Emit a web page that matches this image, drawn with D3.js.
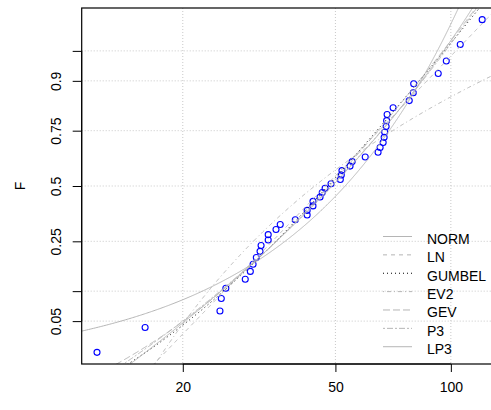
<!DOCTYPE html>
<html><head><meta charset="utf-8">
<script src="https://cdn.jsdelivr.net/npm/d3@7"></script>
<style>
body{margin:0;background:#fff}
svg{display:block}
text{font-family:"Liberation Sans",Arial,Helvetica,sans-serif;fill:#000}
</style>
</head><body>
<svg id="chart" width="491" height="410"></svg>
<script>
// ---- data ----
const sampleValues = [11.95, 15.95, 25.0, 25.2, 25.9, 29.1, 30.0, 30.5, 31.1, 31.8, 32.0, 33.4, 33.4, 35.0, 35.9, 39.3,
  42.2, 42.2, 43.7, 43.7, 45.6, 46.2, 47.0, 48.7, 51.5, 51.8, 52.0, 54.6, 55.3, 59.8, 64.6, 65.4, 66.6, 67.0, 67.2,
  67.8, 68.0, 68.2, 70.7, 77.9, 79.8, 80.0, 92.7, 97.3, 105.8, 120.7];
const xTicks = [20, 50, 100];
const xTickLabels = ["20", "50", "100"];
const yTickProbs = [0.05, 0.1, 0.25, 0.5, 0.75, 0.9, 0.95];
const yTickLabels = ["0.05", "", "0.25", "0.5", "0.75", "0.9", ""];
const yTitle = "F";
const distNames = ["NORM", "LN", "GUMBEL", "EV2", "GEV", "P3", "LP3"];
const distColors = ["#b5b5b5", "#b5b5b5", "#000000", "#b5b5b5", "#b5b5b5", "#b5b5b5", "#b5b5b5"];
const distDashes = ["", "4,4", "1,3", "1,3,4,3", "7,3", "2,2,6,2", ""];
// fitted parameters per distribution
const normParams = {mean: 53.0, sd: 23.8};
const lnParams = {meanlog: 3.853, sdlog: 0.475};
const gumbelParams = {xi: 41.0, alpha: 18.54};
const ev2Params = {theta: 36.34, k: 1.88};
const gevParams = {xi: 41.3, alpha: 19.0, k: 0.03};
const p3Params = {mean: 52.4, sd: 23.9, skew: 0.9};
const lp3Params = {meanlog: 3.853, sdlog: 0.475, skew: -0.5};

// ---- math helpers ----
function qnorm(p) {
  const a=[-3.969683028665376e+01,2.209460984245205e+02,-2.759285104469687e+02,1.383577518672690e+02,-3.066479806614716e+01,2.506628277459239e+00];
  const b=[-5.447609879822406e+01,1.615858368580409e+02,-1.556989798598866e+02,6.680096038544242e+01,-1.328068155288572e+01];
  const c=[-7.784894002430293e-03,-3.223964580411365e-01,-2.400758277161838e+00,-2.549732539343734e+00,4.374664141464968e+00,2.938163982698783e+00];
  const d=[7.784695709041462e-03,3.224671290700398e-01,2.445134137142996e+00,3.754408661907416e+00];
  const pl=0.02425, ph=1-pl; let q,r;
  if(p<pl){q=Math.sqrt(-2*Math.log(p));return (((((c[0]*q+c[1])*q+c[2])*q+c[3])*q+c[4])*q+c[5])/((((d[0]*q+d[1])*q+d[2])*q+d[3])*q+1);}
  if(p<=ph){q=p-0.5;r=q*q;return (((((a[0]*r+a[1])*r+a[2])*r+a[3])*r+a[4])*r+a[5])*q/(((((b[0]*r+b[1])*r+b[2])*r+b[3])*r+b[4])*r+1);}
  q=Math.sqrt(-2*Math.log(1-p));return -(((((c[0]*q+c[1])*q+c[2])*q+c[3])*q+c[4])*q+c[5])/((((d[0]*q+d[1])*q+d[2])*q+d[3])*q+1);
}
function erfc(x){const z=Math.abs(x),t=1/(1+0.5*z);
  const r=t*Math.exp(-z*z-1.26551223+t*(1.00002368+t*(0.37409196+t*(0.09678418+t*(-0.18628806+t*(0.27886807+t*(-1.13520398+t*(1.48851587+t*(-0.82215223+t*0.17087277)))))))));
  return x>=0?r:2-r;}
function pnorm(z){return 0.5*erfc(-z/Math.SQRT2);}
function whK(z,g){ if(Math.abs(g)<1e-6) return z; const b=1+g*z/6-g*g/36; return (2/g)*(b*b*b-1); }

// quantile functions, argument: standard normal variate z (F = pnorm(z))
const quantiles = [
  z => normParams.mean + normParams.sd*z,
  z => Math.exp(lnParams.meanlog + lnParams.sdlog*z),
  z => { const F=pnorm(z); return gumbelParams.xi - gumbelParams.alpha*Math.log(-Math.log(F)); },
  z => { const F=pnorm(z); return ev2Params.theta*Math.pow(-Math.log(F), -1/ev2Params.k); },
  z => { const F=pnorm(z); return gevParams.xi + gevParams.alpha/gevParams.k*(1-Math.pow(-Math.log(F), gevParams.k)); },
  z => p3Params.mean + p3Params.sd*whK(z, p3Params.skew),
  z => Math.exp(lp3Params.meanlog + lp3Params.sdlog*whK(z, lp3Params.skew))
];

// ---- layout ----
const W=491,H=410;
const plot={left:81.7,right:497.6,top:8,bottom:364};
const svg=d3.select("#chart");
const x=d3.scaleLog().domain([10.9,132.4]).range([plot.left,plot.right]);
const y=d3.scaleLinear().domain([-2.17,2.17]).range([plot.bottom,plot.top]);

svg.append("defs").append("clipPath").attr("id","clip").append("rect")
  .attr("x",plot.left).attr("y",plot.top).attr("width",plot.right-plot.left).attr("height",plot.bottom-plot.top);

// grid
const grid=svg.append("g").attr("stroke","#c8c8c8").attr("stroke-dasharray","1,2").attr("stroke-width",1);
yTickProbs.forEach(p=>{grid.append("line").attr("x1",plot.left).attr("x2",plot.right).attr("y1",y(qnorm(p))).attr("y2",y(qnorm(p)));});
xTicks.forEach(v=>{grid.append("line").attr("y1",plot.top).attr("y2",plot.bottom).attr("x1",x(v)).attr("x2",x(v));});

// points
const n=sampleValues.length;
svg.append("g").selectAll("circle").data(sampleValues).join("circle")
  .attr("cx",d=>x(d)).attr("cy",(d,i)=>y(qnorm((i+1)/(n+1)))).attr("r",3)
  .attr("fill","none").attr("stroke","#0000ff").attr("stroke-width",1.1);

// curves
const zs=d3.range(-2.4,2.401,0.005);
const curveG=svg.append("g").attr("clip-path","url(#clip)");
quantiles.forEach((q,i)=>{
  const pts=zs.map(z=>[q(z),z]).filter(d=>isFinite(d[0])&&d[0]>0.5);
  curveG.append("path").datum(pts)
    .attr("d",d3.line().x(d=>x(d[0])).y(d=>y(d[1])))
    .attr("fill","none").attr("stroke",distColors[i]).attr("stroke-width",1)
    .attr("stroke-dasharray",distDashes[i]||null);
});

// frame
svg.append("rect").attr("x",plot.left).attr("y",plot.top).attr("width",plot.right-plot.left).attr("height",plot.bottom-plot.top)
  .attr("fill","none").attr("stroke","#000").attr("stroke-width",1.2);

// axes
const xAxis=svg.append("g").attr("transform",`translate(0,${plot.bottom})`)
  .call(d3.axisBottom(x).tickValues(xTicks).tickFormat((d,i)=>xTickLabels[i]).tickSize(8).tickPadding(14));
xAxis.select(".domain").attr("d",`M${x(xTicks[0])},0H${x(xTicks[xTicks.length-1])}`).attr("stroke","#000");
xAxis.selectAll("text").attr("font-size",14).attr("fill","#000").attr("dy","0.4em");
xAxis.selectAll("line").attr("stroke","#000");

const yAxis=svg.append("g").attr("transform",`translate(${plot.left},0)`)
  .call(d3.axisLeft(y).tickValues(yTickProbs.map(qnorm)).tickFormat((d,i)=>yTickLabels[i]).tickSize(9));
yAxis.select(".domain").attr("d",`M0,${y(qnorm(yTickProbs[yTickProbs.length-1]))}V${y(qnorm(yTickProbs[0]))}`).attr("stroke","#000");
yAxis.selectAll("line").attr("stroke","#000");
yAxis.selectAll("text").attr("font-size",14).attr("fill","#000")
  .attr("text-anchor","middle").attr("x",0).attr("dy",0)
  .attr("transform",function(){const t=d3.select(this.parentNode).attr("transform");return "translate(-21,0) rotate(-90)";});

svg.append("text").attr("transform",`translate(25,${(plot.top+plot.bottom)/2}) rotate(-90)`)
  .attr("text-anchor","middle").attr("font-size",14).text(yTitle);

// legend
const lg=svg.append("g");
distNames.forEach((name,i)=>{
  const base=244+i*18.37;
  lg.append("line").attr("x1",383).attr("x2",412).attr("y1",base-7.5).attr("y2",base-7.5)
    .attr("stroke",distColors[i]).attr("stroke-width",1).attr("stroke-dasharray",distDashes[i]||null);
  lg.append("text").attr("x",427).attr("y",base).attr("font-size",14).text(name);
});
</script>
</body></html>
